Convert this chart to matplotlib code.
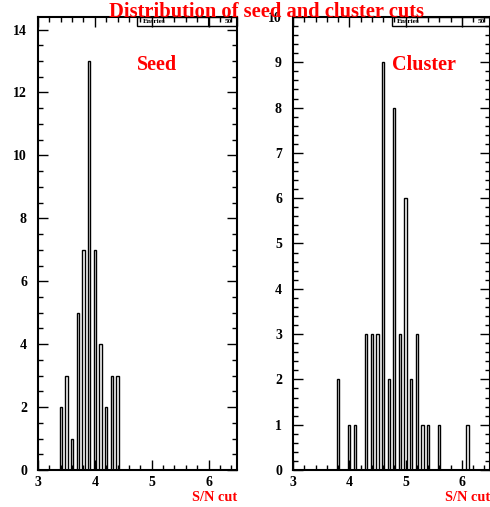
import matplotlib
matplotlib.use('Agg')
import matplotlib.pyplot as plt
from matplotlib.ticker import MultipleLocator
from matplotlib.patches import Rectangle

# S/N cut values (bin positions) and entries per bin
seed_x = [3.4, 3.5, 3.6, 3.7, 3.8, 3.9, 4.0, 4.1, 4.2, 4.3, 4.4]
seed_n = [2, 3, 1, 5, 7, 13, 7, 4, 2, 3, 3]

cluster_x = [3.8, 4.0, 4.1, 4.3, 4.4, 4.5, 4.6, 4.7, 4.8, 4.9, 5.0,
             5.1, 5.2, 5.3, 5.4, 5.6, 6.1]
cluster_n = [2, 1, 1, 3, 3, 3, 9, 2, 8, 3, 6, 2, 3, 1, 1, 1, 1]

title = 'Distribution of seed and cluster cuts'
panel_names = ['Seed', 'Cluster']
x_label = 'S/N cut'

RED = '#ff0000'
serif = ['Liberation Serif', 'DejaVu Serif']
matplotlib.rcParams['font.family'] = serif
matplotlib.rcParams['font.weight'] = 'bold'

fig = plt.figure(figsize=(4.9, 5.07), dpi=100)
ax1 = fig.add_axes([0.0776, 0.073, 0.406, 0.8935])
ax2 = fig.add_axes([0.598, 0.073, 0.402, 0.8935])


def style_axis(ax, ymax, ymajor, yminor):
    ax.set_xlim(3, 6.5)
    ax.set_ylim(0, ymax)
    ax.xaxis.set_major_locator(MultipleLocator(1))
    ax.xaxis.set_minor_locator(MultipleLocator(0.2))
    ax.yaxis.set_major_locator(MultipleLocator(ymajor))
    ax.yaxis.set_minor_locator(MultipleLocator(yminor))
    ax.tick_params(which='both', direction='in', top=True, right=True,
                   width=1.0, labelsize=10)
    ax.tick_params(which='major', length=7)
    ax.tick_params(which='minor', length=3.5)
    ax.tick_params(axis='x', pad=4)
    ax.tick_params(axis='y', pad=8)
    for s in ax.spines.values():
        s.set_linewidth(1.5)
    for lab in ax.get_xticklabels() + ax.get_yticklabels():
        lab.set_fontweight('bold')


def stats_box(ax, entries):
    x0, split = 0.5, 0.856
    h = 0.021
    ax.add_patch(Rectangle((x0, 1 - h), 1 - x0, h, transform=ax.transAxes,
                           fill=False, lw=1.0, ec='black', clip_on=False))
    ax.plot([split, split], [1 - h, 1], transform=ax.transAxes,
            color='black', lw=0.8, clip_on=False)
    ax.text(x0 + 0.025, 1 - h / 2, 'Entries', transform=ax.transAxes,
            fontsize=5.3, ha='left', va='center', fontweight='bold')
    ax.text(0.975, 1 - h / 2, str(entries), transform=ax.transAxes,
            fontsize=5.3, ha='right', va='center', fontweight='bold')


panels = [
    (ax1, seed_x, seed_n, panel_names[0], 14.4, 2, 0.5, 0.60),
    (ax2, cluster_x, cluster_n, panel_names[1], 10, 1, 0.2, 0.667),
]
for ax, xs, ns, name, ymax, ymaj, ymin, name_x in panels:
    ax.bar(xs, ns, width=0.04, color='white', edgecolor='black',
           linewidth=1.0, align='center')
    style_axis(ax, ymax, ymaj, ymin)
    stats_box(ax, sum(ns))
    ax.text(name_x, 0.895, name, transform=ax.transAxes, color=RED,
            fontsize=14.5, fontweight='bold', ha='center', va='center')
    ax.text(1.0, -0.06, x_label, transform=ax.transAxes, color=RED,
            fontsize=10.3, fontweight='bold', ha='right', va='center')

fig.text(0.543, 1 - 12 / 507, title, color=RED, fontsize=14.8,
         fontweight='bold', ha='center', va='center')

fig.savefig('out.png', dpi=100)
